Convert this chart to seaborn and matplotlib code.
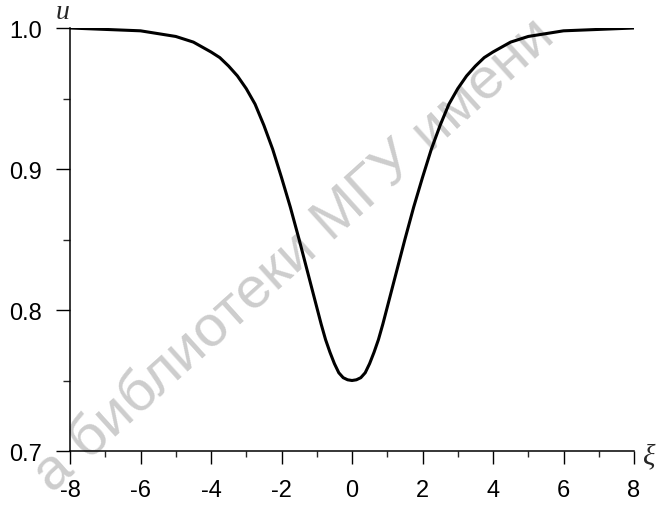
import numpy as np
import pandas as pd
import matplotlib
matplotlib.use("Agg")
import matplotlib.pyplot as plt
from matplotlib.ticker import MultipleLocator, FormatStrFormatter
import seaborn as sns

# values (curve is symmetric about xi = 0)
xi_right = [0.0, 0.125, 0.25, 0.375, 0.5, 0.625, 0.75, 0.875, 1.0, 1.25, 1.5, 1.75,
            2.0, 2.25, 2.5, 2.75, 3.0, 3.25, 3.5, 3.75, 4.0, 4.5, 5.0, 5.5, 6.0,
            6.5, 7.0, 7.5, 8.0]
u_right = [0.750, 0.7505, 0.752, 0.7555, 0.762, 0.770, 0.779, 0.790, 0.802, 0.826,
           0.850, 0.873, 0.894, 0.914, 0.931, 0.946, 0.957, 0.966, 0.973, 0.979,
           0.983, 0.990, 0.994, 0.996, 0.998, 0.9985, 0.999, 0.9995, 1.000]

xi_vals = [-x for x in xi_right[:0:-1]] + xi_right
u_vals = u_right[:0:-1] + u_right

x_ticks = [-8, -6, -4, -2, 0, 2, 4, 6, 8]
y_ticks = [0.7, 0.8, 0.9, 1.0]
x_label = "ξ"
y_label = "u"
watermark = "а библиотеки МГУ имени"

sns.set_style("ticks")
plt.rcParams["font.family"] = ["Liberation Sans", "DejaVu Sans"]
plt.rcParams["axes.unicode_minus"] = False

fig = plt.figure(figsize=(6.6, 5.1), dpi=100)
ax = fig.add_axes([70 / 660, 1 - 452 / 510, (634 - 70) / 660, (452 - 29) / 510])

df = pd.DataFrame({"xi": xi_vals, "u": u_vals})
sns.lineplot(data=df, x="xi", y="u", ax=ax, color="black", linewidth=2.2,
             sort=False, zorder=3)

ax.set_xlim(-8, 8)
ax.set_ylim(0.7, 1.0)
ax.set_xticks(x_ticks)
ax.set_yticks(y_ticks)
ax.xaxis.set_minor_locator(MultipleLocator(1))
ax.yaxis.set_minor_locator(MultipleLocator(0.05))
ax.yaxis.set_major_formatter(FormatStrFormatter("%.1f"))
ax.xaxis.set_major_formatter(FormatStrFormatter("%d"))
ax.set_xlabel("")
ax.set_ylabel("")

for side in ["top", "right"]:
    ax.spines[side].set_visible(False)
for side in ["left", "bottom"]:
    ax.spines[side].set_linewidth(1.1)
    ax.spines[side].set_color("black")

ax.tick_params(axis="x", which="major", direction="out", length=9, width=1.0,
               labelsize=17, pad=11, colors="black")
ax.tick_params(axis="x", which="minor", direction="out", length=4, width=1.0)
ax.tick_params(axis="y", which="major", direction="out", length=10, width=1.0,
               labelsize=17, pad=10, colors="black")
ax.tick_params(axis="y", which="minor", direction="out", length=5, width=1.0)
for lab in ax.get_xticklabels() + ax.get_yticklabels():
    lab.set_zorder(5)

# axis names placed as in the reference
ax.text(-8.2, 1.0 + 0.003, y_label, ha="center", va="bottom", fontsize=20,
        family=["Liberation Serif", "DejaVu Serif"], style="italic", clip_on=False)
ax.text(8.25, 0.7 - 0.004, x_label, ha="left", va="center", fontsize=21,
        family=["Liberation Serif", "DejaVu Serif"], style="italic", clip_on=False)

# scanned-library watermark
ax.text(52 / 660, 1 - 494 / 510, watermark, transform=fig.transFigure,
        rotation=42, rotation_mode="anchor", ha="left", va="baseline",
        fontsize=42, color="#cdcdcd", zorder=0.5, clip_on=False)

fig.savefig("out.png", dpi=100)
